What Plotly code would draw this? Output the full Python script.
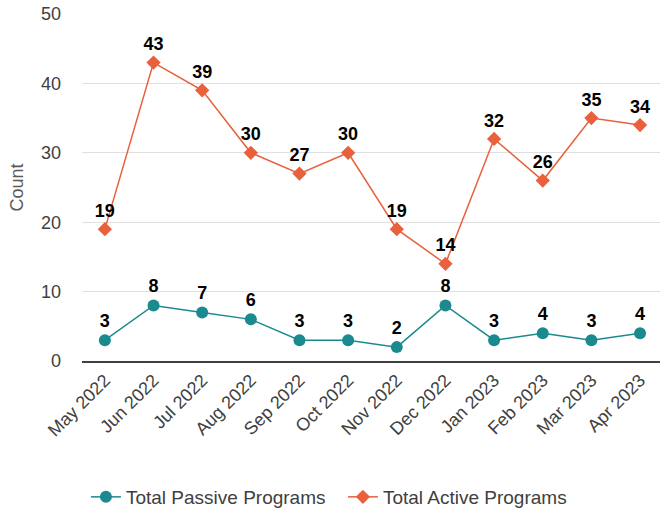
import plotly.graph_objects as go

months = ["May 2022", "Jun 2022", "Jul 2022", "Aug 2022", "Sep 2022", "Oct 2022",
          "Nov 2022", "Dec 2022", "Jan 2023", "Feb 2023", "Mar 2023", "Apr 2023"]
passive = [3, 8, 7, 6, 3, 3, 2, 8, 3, 4, 3, 4]
active = [19, 43, 39, 30, 27, 30, 19, 14, 32, 26, 35, 34]

teal = "#1a8a8f"
orange = "#e8603c"
font = "Liberation Sans, Arial, sans-serif"

fig = go.Figure()
fig.add_trace(go.Scatter(
    x=months, y=passive, name="Total Passive Programs", mode="lines+markers+text",
    line=dict(color=teal, width=1.5), marker=dict(symbol="circle", size=12, color=teal),
    text=[str(v) for v in passive], textposition="top center", cliponaxis=False,
    textfont=dict(family=font, size=18, color="#000000", weight="bold"),
))
fig.add_trace(go.Scatter(
    x=months, y=active, name="Total Active Programs", mode="lines+markers+text",
    line=dict(color=orange, width=1.5), marker=dict(symbol="diamond", size=11, color=orange),
    text=[str(v) for v in active], textposition="top center", cliponaxis=False,
    textfont=dict(family=font, size=18, color="#000000", weight="bold"),
))

fig.update_layout(
    width=662, height=514,
    margin=dict(l=82, r=2, t=14, b=153, autoexpand=False),
    plot_bgcolor="white", paper_bgcolor="white",
    font=dict(family=font, size=18, color="#404040"),
    showlegend=True,
    legend=dict(orientation="h", x=0.518, xanchor="center", xref="container",
                y=1 - 497 / 514, yanchor="middle", yref="container",
                font=dict(size=19, color="#404040"), itemwidth=30, entrywidth=212),
    xaxis=dict(type="category", range=[-0.47, 11.41], tickangle=-45, automargin=False,
               showgrid=False, showline=True, linecolor="#404040", linewidth=1.5,
               ticks="", tickfont=dict(size=18, color="#404040")),
    yaxis=dict(range=[0, 50], dtick=10, showgrid=True, gridcolor="#e0e0e0", gridwidth=1,
               zeroline=False, ticks="", automargin=False, ticklabelstandoff=20,
               tickfont=dict(size=18, color="#404040"),
               title=dict(text="Count", font=dict(size=18, color="#595959"), standoff=12)),
)

fig.write_html("out.html", config={"displayModeBar": False},
               post_script="document.body.style.margin='0';document.body.style.overflow='hidden';")
